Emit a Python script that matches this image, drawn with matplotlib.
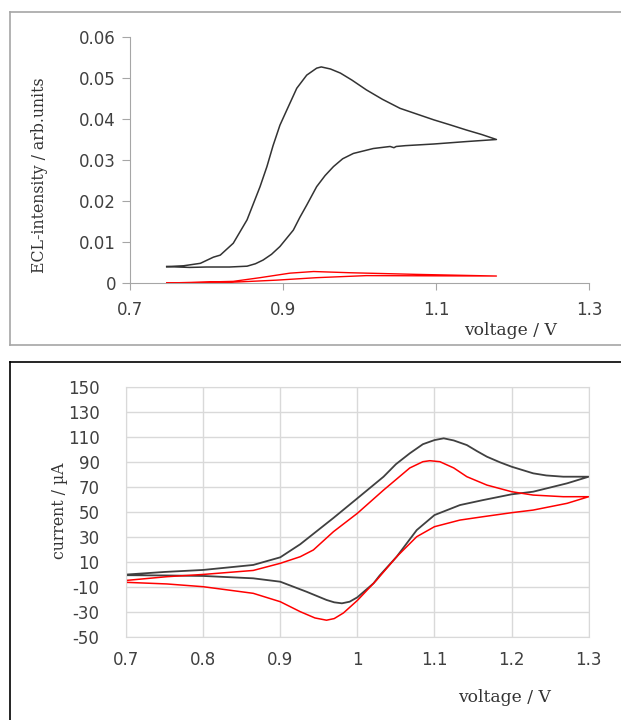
import numpy as np
import matplotlib.pyplot as plt
from matplotlib.lines import Line2D

# ECL, black loop (forward then back)
ecl_v_fwd = [0.748, 0.770, 0.792, 0.809, 0.818, 0.835, 0.853, 0.870, 0.879, 0.887, 0.896, 0.905,
             0.918, 0.931, 0.944, 0.950, 0.962, 0.975, 0.990, 1.009, 1.030, 1.053, 1.075, 1.097,
             1.118, 1.140, 1.160, 1.179]
ecl_i_fwd = [0.0040, 0.0042, 0.0048, 0.0063, 0.0068, 0.0097, 0.0154, 0.0235, 0.0284, 0.0335, 0.0385,
             0.0422, 0.0475, 0.0507, 0.0524, 0.0527, 0.0522, 0.0512, 0.0495, 0.0471, 0.0448, 0.0426,
             0.0412, 0.0398, 0.0386, 0.0373, 0.0362, 0.0350]
ecl_v_rev = [1.179, 1.140, 1.097, 1.060, 1.048, 1.045, 1.040, 1.018, 0.992, 0.978, 0.966, 0.955,
             0.944, 0.931, 0.922, 0.9135, 0.896, 0.885, 0.874, 0.864, 0.853, 0.830, 0.800, 0.778,
             0.748]
ecl_i_rev = [0.0350, 0.0345, 0.0339, 0.0335, 0.0333, 0.0330, 0.0333, 0.0328, 0.0316, 0.0303, 0.0284,
             0.0262, 0.0235, 0.0190, 0.0160, 0.0129, 0.0089, 0.0070, 0.0056, 0.0047, 0.0041, 0.0039,
             0.0039, 0.0038, 0.0040]

# ECL, red loop
ecl_red_v_fwd = [0.748, 0.835, 0.870, 0.909, 0.940, 0.988, 1.075, 1.179]
ecl_red_i_fwd = [0.0000, 0.0004, 0.0013, 0.0024, 0.0028, 0.0025, 0.0021, 0.0017]
ecl_red_v_rev = [1.179, 1.009, 0.944, 0.892, 0.835, 0.748]
ecl_red_i_rev = [0.0017, 0.0018, 0.0013, 0.0007, 0.0002, 0.0000]

# CV, black
cv_v_fwd = [0.70, 0.75, 0.80, 0.865, 0.90, 0.926, 0.952, 0.969, 1.00, 1.034, 1.050, 1.068, 1.085,
            1.10, 1.112, 1.125, 1.142, 1.155, 1.168, 1.185, 1.20, 1.228, 1.245, 1.267, 1.30]
cv_i_fwd = [-0.3, 1.8, 3.4, 7.4, 13.5, 24, 36.7, 45, 60.7, 78, 88, 96.7, 104, 107.3, 108.7, 107,
            103.3, 98.5, 94, 89.5, 86, 80.7, 79, 78, 78]
cv_v_rev = [1.30, 1.272, 1.228, 1.20, 1.163, 1.133, 1.10, 1.077, 1.051, 1.029, 1.021, 1.00, 0.990,
            0.980, 0.970, 0.960, 0.934, 0.90, 0.865, 0.80, 0.75, 0.70]
cv_i_rev = [78, 72.7, 66, 63.9, 59.3, 55.3, 47.3, 35.3, 14, -1, -7.3, -18.5, -22, -23.3, -22.5,
            -20.6, -14, -6, -3.3, -1.4, -1.0, -0.8]

# CV, red
cv_red_v_fwd = [0.70, 0.753, 0.80, 0.865, 0.90, 0.926, 0.943, 0.969, 1.00, 1.034, 1.068, 1.085,
                1.094, 1.107, 1.125, 1.142, 1.168, 1.20, 1.228, 1.267, 1.30]
cv_red_i_fwd = [-5, -2, -0.2, 3, 8.7, 14, 19.4, 34, 48.7, 67.3, 85, 90, 90.8, 90, 85, 78, 71.3,
                66, 63.3, 62, 62]
cv_red_v_rev = [1.30, 1.272, 1.228, 1.20, 1.163, 1.133, 1.10, 1.077, 1.051, 1.025, 1.00, 0.982,
                0.970, 0.960, 0.945, 0.926, 0.90, 0.865, 0.80, 0.753, 0.70]
cv_red_i_rev = [62, 56.7, 51.3, 49.2, 46, 43.3, 38, 30, 14, -4.7, -21, -31, -35.5, -36.8, -35,
                -30, -22, -15.3, -10, -7.8, -6.5]

tick_font = 'DejaVu Sans'
label_font = 'DejaVu Serif'
txt = '#404040'

fig = plt.figure(figsize=(6.21, 7.2), dpi=100)

# panel frames
fig.add_artist(Line2D([10/621, 1], [1-12/720, 1-12/720], color='#a6a6a6', lw=1.2))
fig.add_artist(Line2D([10/621, 1], [1-345/720, 1-345/720], color='#a6a6a6', lw=1.2))
fig.add_artist(Line2D([10/621, 10/621], [1-12/720, 1-345/720], color='#a6a6a6', lw=1.2))
fig.add_artist(Line2D([10/621, 1], [1-362/720, 1-362/720], color='black', lw=1.2))
fig.add_artist(Line2D([10/621, 10/621], [1-362/720, 0], color='black', lw=1.2))

# top: ECL
ax1 = fig.add_axes([130/621, 1-283/720, 459/621, 246/720])
ax1.plot(ecl_v_fwd + ecl_v_rev, ecl_i_fwd + ecl_i_rev, color='#333333', lw=1.1)
ax1.plot(ecl_red_v_fwd + ecl_red_v_rev, ecl_red_i_fwd + ecl_red_i_rev, color='#ff0000', lw=1.0)
ax1.set_xlim(0.7, 1.3)
ax1.set_ylim(0, 0.06)
ax1.set_xticks([0.7, 0.9, 1.1, 1.3])
ax1.set_xticklabels(['0.7', '0.9', '1.1', '1.3'])
ax1.set_yticks([0, 0.01, 0.02, 0.03, 0.04, 0.05, 0.06])
ax1.set_yticklabels(['0', '0.01', '0.02', '0.03', '0.04', '0.05', '0.06'])
for s in ['top', 'right']:
    ax1.spines[s].set_visible(False)
for s in ['left', 'bottom']:
    ax1.spines[s].set_color('#a6a6a6')
ax1.tick_params(axis='y', length=6, color='#a6a6a6', pad=4, labelcolor=txt)
ax1.tick_params(axis='x', length=5, color='#a6a6a6', pad=8, labelcolor=txt)
for lab in ax1.get_xticklabels() + ax1.get_yticklabels():
    lab.set_fontfamily(tick_font)
    lab.set_fontsize(12)
fig.text(40/621, 1-175/720, 'ECL-intensity / arb.units', rotation=90, ha='center', va='center',
         fontfamily=label_font, fontsize=11.3, color='#333333')
fig.text(510/621, 1-331/720, 'voltage / V', ha='center', va='center',
         fontfamily=label_font, fontsize=12.3, color='#333333')

# bottom: CV
ax2 = fig.add_axes([126/621, 1-636.7/720, 462.7/621, 250/720])
ax2.plot(cv_v_fwd + cv_v_rev, cv_i_fwd + cv_i_rev, color='#404040', lw=1.3)
ax2.plot(cv_red_v_fwd + cv_red_v_rev, cv_red_i_fwd + cv_red_i_rev, color='#ff0000', lw=1.1)
ax2.set_xlim(0.7, 1.3)
ax2.set_ylim(-50, 150)
ax2.set_xticks(np.arange(0.7, 1.31, 0.1))
ax2.set_xticklabels(['0.7', '0.8', '0.9', '1', '1.1', '1.2', '1.3'])
ax2.set_yticks(np.arange(-50, 151, 20))
ax2.set_yticklabels([str(v) for v in range(-50, 151, 20)])
ax2.grid(True, color='#d9d9d9', lw=1.0)
ax2.set_axisbelow(True)
for s in ax2.spines.values():
    s.set_color('#d9d9d9')
ax2.tick_params(length=0, labelcolor=txt)
ax2.tick_params(axis='y', pad=19)
ax2.tick_params(axis='x', pad=10)
for lab in ax2.get_xticklabels() + ax2.get_yticklabels():
    lab.set_fontfamily(tick_font)
    lab.set_fontsize(12)
fig.text(60/621, 1-511/720, 'current / µA', rotation=90, ha='center', va='center',
         fontfamily=label_font, fontsize=11.3, color='#333333')
fig.text(504/621, 1-697/720, 'voltage / V', ha='center', va='center',
         fontfamily=label_font, fontsize=12.3, color='#333333')

fig.savefig('out.png', dpi=100)
